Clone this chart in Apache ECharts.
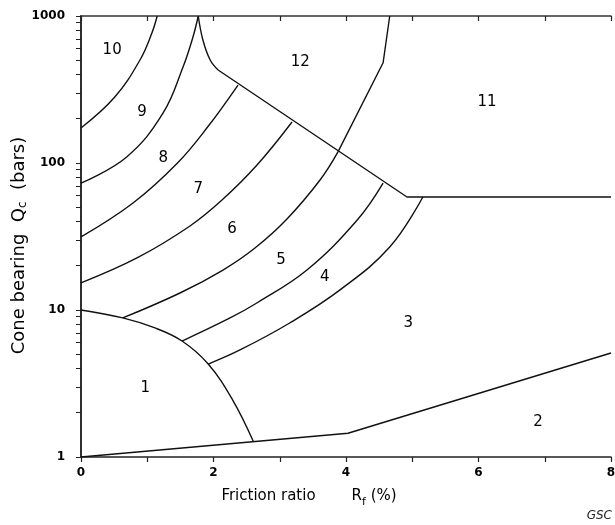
<!DOCTYPE html>
<html>

<head>
	<meta charset="utf-8">
	<title>soil behaviour type chart</title>
	<script type="text/javascript" src="https://cdn.jsdelivr.net/npm/echarts@6.0.0/dist/echarts.min.js"></script>
	<style>
		html, body { margin: 0; padding: 0; background: #fff; }
	</style>
</head>

<body>
	<div id="chart" style="width: 615px;height:525px;"></div>

	<script type="text/javascript">
		// boundaries, friction ratio (%) vs cone bearing (bars)
		const curve10x = [0, 0.51, 0.89, 1.07, 1.15];
		const curve10y = [173, 281, 502, 766, 1000];
		const curve9x = [0, 0.69, 1.24, 1.54, 1.69, 1.77];
		const curve9y = [73, 110, 219, 450, 720, 1000];
		const cuspX = [1.77, 1.84, 1.95, 2.07];
		const cuspY = [1000, 687, 502, 429];
		const upperX = [2.07, 4.92, 8];
		const upperY = [429, 58.7, 58.7];
		const curve8x = [0, 0.785, 1.464, 1.917, 2.37];
		const curve8y = [31.4, 53.4, 100.8, 177, 339];
		const curve7x = [0, 0.845, 1.645, 2.128, 2.657, 3.185];
		const curve7y = [15.3, 22.6, 37.3, 56, 96.9, 190];
		const curve6x = [0.63, 1.494, 2.143, 2.626, 3.109, 3.608, 3.879];
		const curve6y = [8.83, 13.05, 18.7, 26.4, 41.6, 76.6, 119];
		const edge11x = [3.879, 4.56, 4.66];
		const edge11y = [119, 481, 1000];
		const curve5x = [1.525, 2.25, 2.66, 3.41, 4.17, 4.56];
		const curve5y = [6.15, 8.83, 11.2, 18.7, 41, 73];
		const curve4x = [1.92, 2.4, 3.15, 3.91, 4.66, 5.16];
		const curve4y = [4.29, 5.35, 8.16, 13.7, 26.8, 58.7];
		const zone1x = [0, 0.63, 1.117, 1.525, 1.92, 2.29, 2.6];
		const zone1y = [10, 8.83, 7.55, 6.15, 4.29, 2.44, 1.28];
		const bottomX = [0, 4.03, 8];
		const bottomY = [1, 1.45, 5.1];

		// zone numbers
		const zoneNames = ['1', '2', '3', '4', '5', '6', '7', '8', '9', '10', '11', '12'];
		const zoneX = [0.97, 6.9, 4.94, 3.68, 3.02, 2.28, 1.77, 1.24, 0.92, 0.47, 6.13, 3.31];
		const zoneY = [2.95, 1.73, 8.2, 16.8, 22, 35.6, 66.5, 108, 222, 587, 260, 486];

		// log ticks
		const yTicks = [1, 2, 3, 4, 5, 6, 7, 8, 9, 10, 20, 30, 40, 50, 60, 70, 80, 90,
			100, 200, 300, 400, 500, 600, 700, 800, 900, 1000];

		const font = 'DejaVu Sans';
		const ink = '#000';

		function pairs(xs, ys) {
			return xs.map((x, i) => [x, ys[i]]);
		}

		function boundary(xs, ys, smooth) {
			return {
				type: 'line',
				data: pairs(xs, ys),
				symbol: 'none',
				smooth: smooth,
				silent: true,
				lineStyle: { color: '#111', width: 1.4 }
			};
		}

		const myChart = echarts.init(document.getElementById('chart'), null, { renderer: 'canvas' });
		myChart.setOption({
			animation: false,
			backgroundColor: '#fff',
			grid: { left: 81, right: 4, top: 16, bottom: 68, containLabel: false, outerBoundsMode: 'none' },
			xAxis: [{
				type: 'value',
				min: 0,
				max: 8,
				interval: 1,
				position: 'bottom',
				axisLine: { lineStyle: { color: '#222', width: 1.5 } },
				axisTick: { length: 5, lineStyle: { color: '#222', width: 1.2 } },
				splitLine: { show: false },
				axisLabel: {
					margin: 10,
					fontFamily: font,
					fontWeight: 'bold',
					fontSize: 12,
					color: ink,
					formatter: v => (v % 2 === 0 ? String(v) : '')
				},
				name: '{t|Friction ratio}{r|R}{s|f}{t| (%)}',
				nameLocation: 'middle',
				nameGap: 27,
				nameTextStyle: {
					padding: [0, 74, 0, 0],
					rich: {
						t: { fontFamily: font, fontSize: 15, lineHeight: 24, color: ink },
						r: { fontFamily: font, fontSize: 15, lineHeight: 24, color: ink, padding: [0, 0, 0, 36] },
						s: { fontFamily: font, fontSize: 11, lineHeight: 12, color: ink, verticalAlign: 'bottom' }
					}
				}
			}, {
				type: 'value',
				min: 0,
				max: 8,
				interval: 1,
				position: 'top',
				axisLine: { lineStyle: { color: '#333', width: 1.5 } },
				axisTick: { inside: true, length: 5, lineStyle: { color: '#222', width: 1.2 } },
				axisLabel: { show: false },
				splitLine: { show: false }
			}],
			yAxis: [{
				type: 'log',
				logBase: 10,
				min: 1,
				max: 1000,
				position: 'left',
				axisLine: { lineStyle: { color: '#222', width: 1.5 } },
				axisTick: { length: 5, customValues: yTicks, lineStyle: { color: '#222', width: 1 } },
				splitLine: { show: false },
				axisLabel: {
					margin: 16,
					fontFamily: font,
					fontWeight: 'bold',
					fontSize: 12,
					color: ink,
					formatter: v => String(Math.round(v))
				},
				name: '{t|Cone bearing  Q}{s|c}{t|  (bars)}',
				nameLocation: 'middle',
				nameGap: 52,
				nameMoveOverlap: false,
				nameTextStyle: {
					padding: [0, 18, 0, 0],
					rich: {
						t: { fontFamily: font, fontSize: 18, lineHeight: 20, color: ink },
						s: { fontFamily: font, fontSize: 12, lineHeight: 10, color: ink, verticalAlign: 'bottom' }
					}
				}
			}, {
				type: 'log',
				logBase: 10,
				min: 1,
				max: 1000,
				position: 'right',
				axisLine: { lineStyle: { color: '#222', width: 1.5 } },
				axisTick: { inside: true, length: 5, customValues: yTicks, lineStyle: { color: '#222', width: 1 } },
				axisLabel: { show: false },
				splitLine: { show: false }
			}],
			graphic: [{
				type: 'text',
				right: 3,
				top: 510,
				style: { text: 'GSC', font: 'italic 12px "DejaVu Sans"', fill: '#222' }
			}],
			series: [
				boundary(curve10x, curve10y, 0.4),
				boundary(curve9x, curve9y, 0.4),
				boundary(cuspX, cuspY, 0.4),
				boundary(upperX, upperY, false),
				boundary(curve8x, curve8y, 0.4),
				boundary(curve7x, curve7y, 0.4),
				boundary(curve6x, curve6y, 0.4),
				boundary(edge11x, edge11y, false),
				boundary(curve5x, curve5y, 0.4),
				boundary(curve4x, curve4y, 0.4),
				boundary(zone1x, zone1y, 0.4),
				boundary(bottomX, bottomY, false),
				{
					type: 'scatter',
					symbolSize: 0,
					silent: true,
					itemStyle: { opacity: 1 },
					data: zoneNames.map((n, i) => [zoneX[i], zoneY[i], n]),
					label: {
						show: true,
						position: 'inside',
						formatter: p => p.data[2],
						fontFamily: font,
						fontSize: 15,
						color: ink,
						opacity: 1
					}
				}
			]
		});
	</script>
</body>

</html>
